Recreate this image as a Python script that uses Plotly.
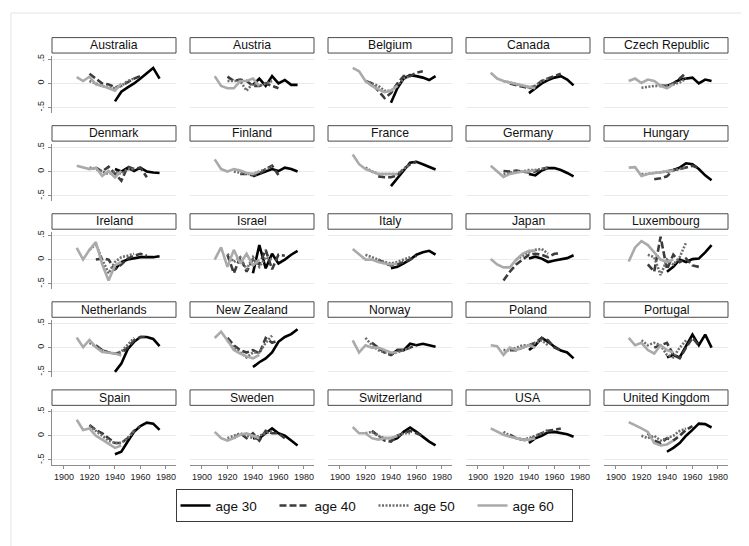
import plotly.graph_objects as go

COUNTRIES = ["Australia", "Austria", "Belgium", "Canada", "Czech Republic",
             "Denmark", "Finland", "France", "Germany", "Hungary",
             "Ireland", "Israel", "Italy", "Japan", "Luxembourg",
             "Netherlands", "New Zealand", "Norway", "Poland", "Portugal",
             "Spain", "Sweden", "Switzerland", "USA", "United Kingdom"]

YEARS30 = [1940, 1945, 1950, 1955, 1960, 1965, 1970, 1975]
YEARS40 = [1920, 1925, 1930, 1935, 1940, 1945, 1950, 1955, 1960, 1965]
YEARS50 = [1920, 1925, 1930, 1935, 1940, 1945, 1950, 1955]
YEARS60 = [1910, 1915, 1920, 1925, 1930, 1935, 1940, 1945]

N = None

AGE30 = {
    "Australia": [-0.37, -0.17, -0.08, 0.00, 0.10, 0.22, 0.32, 0.10],
    "Austria": [-0.03, 0.10, -0.05, 0.15, 0.00, 0.07, -0.03, -0.03],
    "Belgium": [-0.40, -0.10, 0.10, 0.17, 0.15, 0.12, 0.07, 0.15],
    "Canada": [-0.20, -0.10, 0.00, 0.07, 0.12, 0.15, 0.08, -0.04],
    "Czech Republic": [-0.05, 0.00, 0.08, 0.10, 0.12, 0.00, 0.08, 0.05],
    "Denmark": [0.05, 0.00, 0.08, 0.01, 0.08, 0.00, -0.02, -0.03],
    "Finland": [-0.10, -0.05, 0.00, 0.05, 0.01, 0.08, 0.05, 0.00],
    "France": [-0.30, -0.15, 0.02, 0.18, 0.20, 0.15, 0.10, 0.04],
    "Germany": [-0.05, -0.08, 0.02, 0.07, 0.07, 0.03, -0.03, -0.10],
    "Hungary": [0.00, 0.03, 0.08, 0.17, 0.15, 0.05, -0.08, -0.18],
    "Ireland": [-0.20, -0.05, 0.00, 0.03, 0.05, 0.05, 0.05, 0.07],
    "Israel": [-0.28, 0.30, -0.18, 0.12, -0.08, 0.00, 0.10, 0.18],
    "Italy": [-0.18, -0.15, -0.08, 0.00, 0.10, 0.15, 0.18, 0.10],
    "Japan": [0.02, 0.06, 0.02, -0.05, -0.02, 0.01, 0.03, 0.09],
    "Luxembourg": [-0.25, -0.15, 0.00, -0.05, 0.01, 0.02, 0.15, 0.30],
    "Netherlands": [-0.50, -0.33, -0.03, 0.12, 0.22, 0.22, 0.18, 0.03],
    "New Zealand": [-0.40, -0.30, -0.22, -0.10, 0.12, 0.22, 0.28, 0.38],
    "Norway": [-0.15, -0.05, -0.05, 0.08, 0.05, 0.08, 0.05, 0.02],
    "Poland": [-0.05, 0.05, 0.20, 0.12, 0.02, -0.06, -0.10, -0.22],
    "Portugal": [-0.20, -0.15, -0.20, 0.05, 0.27, 0.05, 0.27, 0.00],
    "Spain": [-0.38, -0.33, -0.12, 0.08, 0.20, 0.27, 0.25, 0.12],
    "Sweden": [-0.05, -0.05, 0.05, 0.15, 0.05, 0.00, -0.10, -0.20],
    "Switzerland": [-0.10, -0.05, 0.08, 0.17, 0.08, -0.02, -0.12, -0.20],
    "USA": [-0.15, -0.05, 0.00, 0.07, 0.08, 0.05, 0.03, -0.02],
    "United Kingdom": [-0.33, -0.25, -0.15, 0.00, 0.12, 0.25, 0.24, 0.17],
}

AGE40 = {
    "Australia": [0.20, 0.10, 0.00, -0.02, -0.08, -0.05, 0.02, 0.10, 0.15, N],
    "Austria": [0.14, 0.05, 0.08, 0.05, -0.05, -0.05, 0.00, -0.05, -0.10, N],
    "Belgium": [0.05, 0.00, -0.15, -0.30, -0.20, 0.00, 0.15, 0.15, 0.22, 0.25],
    "Canada": [N, 0.00, -0.03, -0.06, -0.10, -0.05, 0.05, 0.10, 0.15, 0.20],
    "Czech Republic": [N, N, N, -0.05, -0.05, 0.00, 0.10, 0.22, N, N],
    "Denmark": [N, 0.08, 0.00, 0.10, -0.05, -0.19, 0.10, 0.05, 0.08, -0.12],
    "Finland": [N, N, -0.05, -0.05, -0.08, -0.05, 0.05, 0.12, -0.07, N],
    "France": [N, N, -0.10, -0.12, -0.12, -0.08, 0.05, 0.15, 0.20, N],
    "Germany": [0.01, 0.00, 0.02, 0.00, -0.02, 0.00, 0.05, 0.08, N, N],
    "Hungary": [N, N, -0.16, -0.14, -0.10, 0.03, 0.05, 0.08, 0.12, 0.07],
    "Ireland": [N, 0.00, 0.02, 0.00, -0.20, -0.10, 0.02, 0.08, 0.12, 0.08],
    "Israel": [0.10, -0.28, 0.05, -0.25, 0.00, -0.10, 0.20, -0.20, 0.10, 0.08],
    "Italy": [N, N, 0.00, -0.08, -0.12, -0.10, -0.05, 0.00, 0.08, N],
    "Japan": [-0.43, -0.25, -0.10, 0.00, 0.10, 0.12, 0.10, 0.05, 0.12, 0.13],
    "Luxembourg": [N, -0.10, -0.25, 0.47, -0.20, 0.10, -0.05, 0.02, -0.12, -0.15],
    "Netherlands": [N, 0.05, -0.05, -0.10, -0.12, -0.10, 0.00, 0.15, 0.22, 0.22],
    "New Zealand": [0.20, 0.05, -0.05, -0.10, -0.05, -0.12, 0.20, 0.10, 0.15, N],
    "Norway": [N, 0.10, 0.00, -0.10, -0.15, -0.05, -0.05, 0.00, 0.05, N],
    "Poland": [N, -0.05, -0.05, 0.00, 0.05, 0.10, 0.20, 0.15, 0.00, -0.05],
    "Portugal": [N, N, 0.00, 0.05, 0.10, -0.15, -0.22, 0.00, 0.20, 0.05],
    "Spain": [0.22, 0.12, 0.05, -0.05, -0.15, -0.15, -0.05, 0.10, 0.20, N],
    "Sweden": [N, -0.05, 0.05, -0.05, 0.05, -0.10, 0.10, 0.05, 0.05, -0.05],
    "Switzerland": [N, 0.10, 0.00, -0.10, -0.12, 0.00, 0.05, 0.10, 0.05, 0.00],
    "USA": [N, 0.02, -0.05, -0.08, -0.10, 0.00, 0.05, 0.10, 0.12, 0.15],
    "United Kingdom": [N, 0.05, -0.10, -0.15, -0.05, -0.10, 0.00, 0.12, 0.20, N],
}

AGE50 = {
    "Australia": [0.05, 0.00, -0.05, -0.08, -0.10, -0.05, 0.05, 0.10],
    "Austria": [0.05, 0.05, 0.05, -0.15, 0.00, -0.05, 0.00, 0.05],
    "Belgium": [0.05, 0.00, -0.05, -0.15, -0.15, -0.05, 0.10, 0.15],
    "Canada": [0.05, 0.02, -0.02, -0.05, -0.08, -0.05, 0.05, 0.10],
    "Czech Republic": [-0.09, -0.07, -0.05, -0.05, -0.05, -0.02, 0.02, 0.10],
    "Denmark": [0.08, 0.05, 0.00, -0.05, 0.00, -0.05, 0.05, 0.05],
    "Finland": [N, 0.00, -0.03, -0.05, -0.05, 0.00, 0.05, 0.10],
    "France": [0.08, 0.00, -0.05, -0.05, -0.05, -0.05, 0.05, 0.15],
    "Germany": [-0.05, -0.03, 0.00, 0.00, 0.03, 0.03, 0.05, 0.08],
    "Hungary": [-0.05, -0.05, -0.03, -0.02, 0.00, 0.02, 0.05, 0.10],
    "Ireland": [0.20, 0.32, 0.00, -0.28, -0.05, 0.05, 0.08, 0.12],
    "Israel": [0.12, -0.05, 0.05, -0.20, 0.05, -0.15, 0.05, 0.00],
    "Italy": [0.10, 0.05, 0.00, -0.05, -0.08, -0.05, 0.00, 0.05],
    "Japan": [N, N, 0.00, 0.08, 0.15, 0.20, 0.22, 0.12],
    "Luxembourg": [N, 0.10, 0.05, -0.32, 0.00, -0.10, 0.05, 0.35],
    "Netherlands": [0.10, 0.02, -0.05, -0.10, -0.12, -0.08, 0.05, 0.20],
    "New Zealand": [0.15, 0.00, -0.10, -0.20, -0.10, -0.10, 0.10, 0.25],
    "Norway": [0.20, 0.05, -0.05, -0.10, -0.12, -0.10, -0.05, 0.00],
    "Poland": [-0.05, -0.05, 0.00, 0.05, 0.05, 0.10, 0.15, 0.05],
    "Portugal": [0.15, 0.05, 0.10, 0.05, -0.15, -0.20, 0.00, 0.15],
    "Spain": [0.20, 0.10, 0.00, -0.10, -0.15, -0.15, -0.05, 0.10],
    "Sweden": [-0.05, 0.00, 0.05, 0.00, -0.05, 0.00, 0.05, 0.10],
    "Switzerland": [0.05, 0.08, 0.00, -0.05, -0.05, 0.00, 0.05, 0.05],
    "USA": [0.08, 0.00, -0.05, -0.08, -0.05, 0.00, 0.05, 0.12],
    "United Kingdom": [0.00, -0.05, 0.00, -0.10, -0.05, 0.00, 0.10, 0.15],
}

AGE60 = {
    "Australia": [0.13, 0.05, 0.14, -0.02, -0.05, -0.10, -0.15, 0.00],
    "Austria": [0.15, -0.05, -0.10, -0.10, 0.05, 0.05, 0.10, -0.05],
    "Belgium": [0.32, 0.25, 0.05, -0.05, -0.12, -0.18, -0.15, -0.05],
    "Canada": [0.22, 0.10, 0.05, 0.02, -0.02, -0.04, -0.08, -0.10],
    "Czech Republic": [0.05, 0.10, 0.01, 0.08, 0.05, -0.05, -0.10, -0.02],
    "Denmark": [0.12, 0.08, 0.05, 0.08, -0.09, 0.01, -0.12, 0.01],
    "Finland": [0.25, 0.05, 0.00, 0.05, 0.02, -0.03, -0.05, 0.00],
    "France": [0.35, 0.15, 0.05, 0.00, -0.05, -0.05, -0.05, -0.05],
    "Germany": [0.12, 0.00, -0.11, -0.05, -0.03, 0.00, 0.00, 0.03],
    "Hungary": [0.08, 0.09, -0.09, -0.05, -0.03, -0.02, 0.01, 0.02],
    "Ireland": [0.24, 0.00, 0.20, 0.36, -0.10, -0.43, -0.12, -0.05],
    "Israel": [0.00, 0.25, -0.15, 0.20, -0.08, 0.12, -0.12, 0.00],
    "Italy": [0.22, 0.10, 0.00, 0.00, -0.05, -0.08, -0.10, -0.08],
    "Japan": [0.01, -0.10, -0.16, -0.16, 0.00, 0.12, 0.18, 0.18],
    "Luxembourg": [-0.04, 0.25, 0.38, 0.30, 0.15, 0.00, -0.05, 0.00],
    "Netherlands": [0.21, 0.01, 0.16, 0.01, -0.09, -0.10, -0.12, -0.16],
    "New Zealand": [0.20, 0.33, 0.15, -0.05, -0.12, -0.18, -0.22, -0.15],
    "Norway": [0.15, -0.10, 0.05, 0.00, 0.00, -0.05, -0.10, -0.10],
    "Poland": [0.05, 0.03, -0.15, 0.00, -0.05, 0.00, 0.05, 0.00],
    "Portugal": [0.20, 0.05, 0.10, -0.05, -0.12, 0.05, -0.05, -0.10],
    "Spain": [0.33, 0.12, 0.15, 0.00, -0.08, -0.16, -0.25, -0.20],
    "Sweden": [0.08, -0.05, -0.10, -0.05, 0.02, 0.05, 0.00, -0.05],
    "Switzerland": [0.18, 0.05, 0.05, -0.05, -0.08, -0.05, -0.05, 0.00],
    "USA": [0.15, 0.08, 0.02, -0.02, -0.05, -0.08, -0.08, -0.05],
    "United Kingdom": [0.28, 0.22, 0.15, 0.08, -0.15, -0.20, -0.18, -0.10],
}

SERIES_NAMES = ["age 30", "age 40", "age 50", "age 60"]
X_TICKS = [1900, 1920, 1940, 1960, 1980]
Y_TICKS = [-0.5, 0, 0.5]
Y_TICKTEXT = ["-.5", "0", ".5"]

# ---- styling / layout ----
W, H = 749, 546
FONT = "Liberation Sans, Arial, sans-serif"
STYLES = [
    dict(color="#000000", width=2.6, dash="solid"),
    dict(color="#3c3c3c", width=2.6, dash="7px,3px"),
    dict(color="#6e6e6e", width=2.6, dash="2px,1.5px"),
    dict(color="#aaaaaa", width=2.6, dash="solid"),
]
COL_LEFT = [44, 182, 320, 458, 596]
PANEL_W = 124
ROW_ZERO = [73.7 + 88.4 * r for r in range(5)]
Y_LO, Y_HI = -0.61, 0.56
PX_PER_UNIT = 48.7
X_RANGE = [1890.6, 1987.9]


def py(px):
    return 1 - px / H


def pxx(px):
    return px / W


fig = go.Figure()
layout = dict(
    width=W, height=H,
    margin=dict(l=0, r=0, t=0, b=0),
    paper_bgcolor="white", plot_bgcolor="white",
    font=dict(family=FONT, color="#111111"),
    showlegend=True,
)
shapes = []
annotations = []

series = [(YEARS30, AGE30), (YEARS40, AGE40), (YEARS50, AGE50), (YEARS60, AGE60)]

for i, country in enumerate(COUNTRIES):
    r, c = divmod(i, 5)
    idx = i + 1
    xa = "x" if idx == 1 else f"x{idx}"
    ya = "y" if idx == 1 else f"y{idx}"
    left = COL_LEFT[c]
    zero = ROW_ZERO[r]
    top_px = zero - Y_HI * PX_PER_UNIT
    bot_px = zero - Y_LO * PX_PER_UNIT

    for k, (yrs, data) in enumerate(series):
        fig.add_trace(go.Scatter(
            x=yrs, y=data[country], mode="lines",
            line=STYLES[k], name=SERIES_NAMES[k],
            legendgroup=SERIES_NAMES[k], showlegend=(i == 0),
            xaxis=xa, yaxis=ya, connectgaps=False,
        ))

    xkey = "xaxis" if idx == 1 else f"xaxis{idx}"
    ykey = "yaxis" if idx == 1 else f"yaxis{idx}"
    bottom_row = (r == 4)
    first_col = (c == 0)
    layout[xkey] = dict(
        domain=[pxx(left), pxx(left + PANEL_W)], anchor=ya,
        range=X_RANGE, showgrid=False, zeroline=False,
        showline=bottom_row, linecolor="#8c8c8c", linewidth=1,
        ticks="outside" if bottom_row else "", ticklen=3, tickcolor="#8c8c8c",
        tickvals=X_TICKS, showticklabels=bottom_row,
        tickfont=dict(size=9, color="#222222", family=FONT),
    )
    layout[ykey] = dict(
        domain=[py(bot_px), py(top_px)], anchor=xa,
        range=[Y_LO, Y_HI], showgrid=True, gridcolor="#e4eced", gridwidth=1,
        zeroline=False, tickvals=Y_TICKS, ticktext=Y_TICKTEXT,
        showline=first_col, linecolor="#8c8c8c", linewidth=1,
        ticks="outside" if first_col else "", ticklen=3, tickcolor="#8c8c8c",
        showticklabels=first_col, tickangle=-90,
        tickfont=dict(size=9, color="#222222", family=FONT),
    )

    # panel title box
    bt, bb = zero - 46, zero - 30.5
    shapes.append(dict(type="rect", xref="paper", yref="paper",
                       x0=pxx(left), x1=pxx(left + PANEL_W),
                       y0=py(bb), y1=py(bt),
                       line=dict(color="#4a4a4a", width=1), fillcolor="white"))
    annotations.append(dict(xref="paper", yref="paper",
                            x=pxx(left + PANEL_W / 2), y=py((bt + bb) / 2),
                            text=country, showarrow=False,
                            xanchor="center", yanchor="middle",
                            font=dict(size=12.2, family=FONT, color="#111111")))

# outer graph-region frame
shapes.append(dict(type="rect", xref="paper", yref="paper",
                   x0=pxx(3), x1=pxx(745), y0=py(542), y1=py(3),
                   line=dict(color="#dce5e8", width=1), layer="below"))

layout["shapes"] = shapes
layout["annotations"] = annotations
layout["legend"] = dict(
    orientation="h", x=pxx(366), xanchor="center",
    y=py(481), yanchor="top",
    bordercolor="#3a3a3a", borderwidth=1, bgcolor="white",
    font=dict(size=13.5, family=FONT, color="#111111"),
    itemwidth=30, entrywidth=54, entrywidthmode="pixels",
    tracegroupgap=0,
)

fig.update_layout(**layout)
fig.write_html("out.html")
